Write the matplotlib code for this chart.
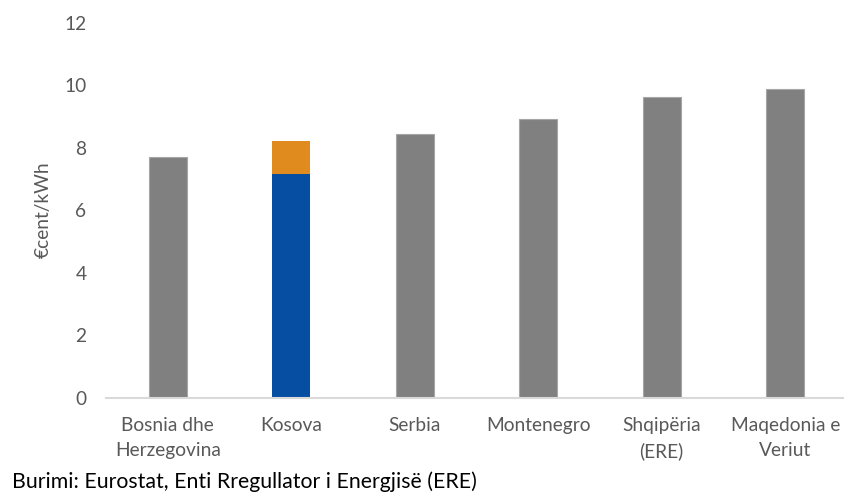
import matplotlib.pyplot as plt

plt.rcParams['font.family'] = ['Lato', 'DejaVu Sans']

countries = ["Bosnia dhe\nHerzegovina", "Kosova", "Serbia", "Montenegro",
             "Shqipëria\n(ERE)", "Maqedonia e\nVeriut"]
prices = [7.71, 0, 8.43, 8.92, 9.62, 9.87]
kosova_base = 7.14
kosova_extra = 1.08

fig = plt.figure(figsize=(8.44, 4.92), dpi=100)
ax = fig.add_axes([106 / 844, 0.192, 741 / 844, 0.762])

x = range(len(countries))
ax.bar(x, prices, width=0.31, color="#808080", edgecolor="#a6a6a6", linewidth=0.8)
ax.bar(1, kosova_base, width=0.31, color="#054ea2")
ax.bar(1, kosova_extra, bottom=kosova_base, width=0.31, color="#e08b1e")

ax.set_xlim(-0.5, len(countries) - 0.5)
ax.set_ylim(0, 12)
ax.set_yticks(range(0, 13, 2))
ax.set_xticks(list(x))
ax.set_xticklabels(countries, fontsize=13.8, color="#595959", linespacing=1.55)
ax.tick_params(axis="y", labelsize=13.8, labelcolor="#595959", length=0, pad=14)
ax.tick_params(axis="x", length=0, pad=14)
ax.set_ylabel("€cent/kWh", fontsize=13.8, color="#595959", labelpad=9)

for side in ["top", "right", "left"]:
    ax.spines[side].set_visible(False)
ax.spines["bottom"].set_color("#d9d9d9")
ax.spines["bottom"].set_linewidth(1.5)

fig.text(12 / 844, 1 - 482 / 492, "Burimi: Eurostat, Enti Rregullator i Energjisë (ERE)",
         fontsize=15.3, color="black", va="center", ha="left")

fig.savefig("out.png", dpi=100)
